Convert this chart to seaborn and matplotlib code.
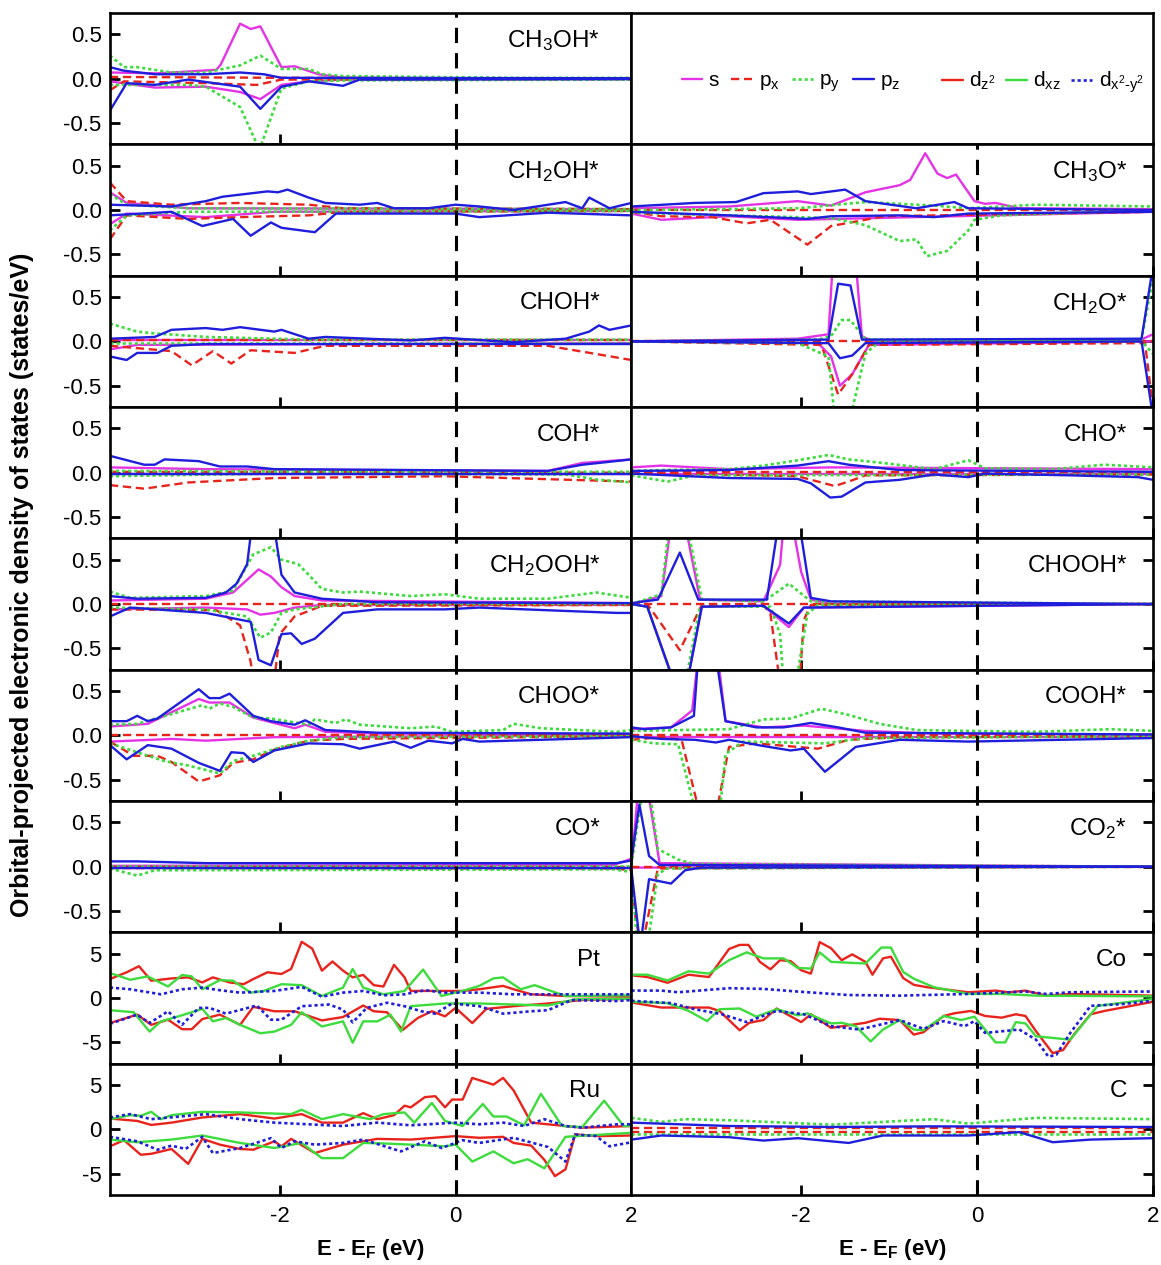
import numpy as np
import pandas as pd
import seaborn as sns
import matplotlib.pyplot as plt
from matplotlib.lines import Line2D

# ---------------- data (energy in eV, DOS in states/eV) ----------------
# each curve: (energies, dos); "UP" = spin up (positive), "DN" = spin down (negative)

# CH3OH*
CH3OH_S_UP = ([-3.93, -3.4, -2.72, -2.67, -2.45, -2.33, -2.22, -1.98, -1.83, -1.56, -1.28, 2.0],
              [0.07, 0.06, 0.10, 0.16, 0.62, 0.56, 0.59, 0.13, 0.14, 0.05, 0.01, 0.0])
CH3OH_S_DN = ([-3.93, -3.42, -2.84, -2.45, -2.22, -1.98, -1.67, -1.28, 2.0],
              [-0.03, -0.10, -0.09, -0.15, -0.23, -0.07, -0.03, -0.01, 0.0])
CH3OH_PX_UP = ([-3.93, -2.0, 2.0], [0.02, 0.01, 0.0])
CH3OH_PX_DN = ([-3.93, -3.77, -2.84, -2.26, -1.98, 2.0], [-0.13, -0.03, -0.05, -0.07, -0.01, -0.005])
CH3OH_PY_UP = ([-3.93, -3.77, -3.62, -3.23, -2.84, -2.45, -2.22, -1.98, -1.67, -1.52, -1.28, 0.66, 2.0],
               [0.26, 0.13, 0.13, 0.07, 0.07, 0.15, 0.26, 0.11, 0.11, 0.05, 0.03, 0.01, 0.01])
CH3OH_PY_DN = ([-3.93, -3.04, -2.84, -2.45, -2.23, -1.98, -1.67, -1.28, 2.0],
               [-0.07, -0.07, -0.09, -0.32, -0.80, -0.11, -0.03, -0.02, -0.01])
CH3OH_PZ_UP = ([-3.93, -3.77, -3.42, -2.84, -2.45, -2.18, -1.98, 2.0],
               [0.13, 0.09, 0.05, 0.05, 0.07, 0.05, 0.01, 0.005])
CH3OH_PZ_DN = ([-3.93, -3.74, -3.42, -3.04, -2.45, -2.22, -1.98, -1.67, -1.28, -1.09, 2.0],
               [-0.36, -0.05, -0.07, -0.01, -0.09, -0.34, -0.09, -0.03, -0.08, -0.01, -0.005])

# CH2OH*
CH2OH_S_UP = ([-3.93, -3.74, -3.04, 2.0], [0.20, 0.08, 0.02, 0.01])
CH2OH_S_DN = ([-3.93, -3.74, -2.84, -2.06, 2.0], [-0.16, -0.04, -0.08, -0.02, -0.01])
CH2OH_PX_UP = ([-3.93, -3.74, -3.23, -2.45, -1.67, -1.28, 2.0], [0.31, 0.10, 0.06, 0.08, 0.06, 0.02, 0.01])
CH2OH_PX_DN = ([-3.93, -3.74, -3.04, -2.45, -1.67, -1.28, 2.0], [-0.33, -0.06, -0.10, -0.08, -0.06, -0.02, -0.01])
CH2OH_PY_UP = ([-3.93, -3.74, -3.04, 2.0], [0.18, 0.06, 0.02, 0.01])
CH2OH_PY_DN = ([-3.93, -3.74, -3.04, 2.0], [-0.23, -0.06, -0.02, -0.01])
CH2OH_PZ_UP = ([-3.93, -3.23, -2.84, -2.65, -2.14, -2.02, -1.91, -1.67, -1.48, -1.09, -0.89, -0.70, -0.31,
                0.0, 0.27, 0.66, 1.25, 1.44, 1.52, 1.75, 2.0],
               [0.06, 0.04, 0.10, 0.15, 0.21, 0.20, 0.23, 0.14, 0.08, 0.06, 0.08, 0.02, 0.02,
                0.06, 0.04, 0.0, 0.09, 0.02, 0.14, 0.02, 0.08])
CH2OH_PZ_DN = ([-3.93, -3.23, -2.88, -2.53, -2.33, -2.10, -1.98, -1.60, -1.36, 0.0, 0.27, 1.05, 2.0],
               [-0.06, -0.02, -0.18, -0.10, -0.29, -0.14, -0.20, -0.25, -0.04, -0.04, -0.08, -0.03, -0.06])

# CHOH*
CHOH_S_UP = ([-3.93, 2.0], [0.02, 0.02])
CHOH_S_DN = ([-3.93, -3.62, 2.0], [-0.09, -0.04, -0.02])
CHOH_PX_UP = ([-3.93, 2.0], [0.01, 0.01])
CHOH_PX_DN = ([-3.93, -3.23, -3.00, -2.76, -2.55, -2.33, -1.83, -1.48, 1.05, 2.0],
              [-0.05, -0.11, -0.27, -0.11, -0.25, -0.10, -0.13, -0.05, -0.05, -0.21])
CHOH_PY_UP = ([-3.93, -3.62, -3.42, -2.84, -1.67, 2.0], [0.20, 0.11, 0.09, 0.05, 0.02, 0.02])
CHOH_PY_DN = ([-3.93, 2.0], [-0.02, -0.02])
CHOH_PZ_UP = ([-3.93, -3.42, -3.23, -2.84, -2.65, -2.45, -2.06, -1.98, -1.67, -1.48, -0.51, -0.12,
               0.66, 1.25, 1.52, 1.63, 1.75, 2.0],
              [0.03, 0.05, 0.13, 0.15, 0.13, 0.16, 0.11, 0.13, 0.03, 0.05, 0.01, 0.04,
               -0.01, 0.03, 0.11, 0.18, 0.13, 0.18])
CHOH_PZ_DN = ([-3.93, -3.74, -3.62, -3.39, -3.23, -2.84, 2.0], [-0.17, -0.21, -0.13, -0.13, -0.05, -0.03, -0.03])

# COH*
COH_S_UP = ([-3.93, -2.84, 1.05, 1.44, 2.0], [0.06, 0.04, 0.02, 0.11, 0.15])
COH_S_DN = ([-3.93, 2.0], [-0.01, -0.01])
COH_PX_UP = ([-3.93, 2.0], [0.01, 0.0])
COH_PX_DN = ([-3.93, -3.54, -3.04, -2.06, -0.12, 2.0], [-0.14, -0.18, -0.11, -0.06, -0.04, -0.10])
COH_PY_UP = ([-3.93, 2.0], [0.02, 0.01])
COH_PY_DN = ([-3.93, -2.06, 1.25, 1.63, 2.0], [-0.04, -0.01, -0.02, -0.08, -0.11])
COH_PZ_UP = ([-3.93, -3.54, -3.42, -3.31, -2.92, -2.68, -2.37, -2.06, 1.05, 1.44, 1.63, 2.0],
             [0.19, 0.09, 0.09, 0.15, 0.13, 0.07, 0.07, 0.04, 0.02, 0.09, 0.11, 0.15])
COH_PZ_DN = ([-3.93, 2.0], [-0.02, -0.02])

# CH2OOH*
CH2OOH_S_UP = ([-3.93, -2.84, -2.53, -2.24, -2.10, -1.98, -1.83, -1.52, 2.0],
               [0.04, 0.06, 0.13, 0.39, 0.31, 0.19, 0.09, 0.04, 0.01])
CH2OOH_S_DN = ([-3.93, -2.84, -2.37, -2.22, -2.06, -1.83, -1.52, 2.0],
               [-0.06, -0.04, -0.06, -0.12, -0.10, -0.04, -0.01, -0.01])
CH2OOH_PX_UP = ([-3.93, 2.0], [0.0, 0.0])
CH2OOH_PX_DN = ([-3.93, -2.72, -2.45, -2.33, -2.30, -2.06, -2.00, -1.83, -1.52, 2.0],
                [-0.06, -0.07, -0.24, -0.65, -0.85, -0.85, -0.34, -0.14, -0.02, -0.01])
CH2OOH_PY_UP = ([-3.93, -3.70, -2.84, -2.53, -2.30, -2.10, -1.98, -1.79, -1.67, -1.52, -1.28, -1.09,
                 -0.51, -0.12, 0.27, 1.05, 1.60, 2.0],
                [0.14, 0.07, 0.09, 0.15, 0.56, 0.64, 0.50, 0.45, 0.33, 0.17, 0.13, 0.14,
                 0.09, 0.11, 0.06, 0.06, 0.13, 0.07])
CH2OOH_PY_DN = ([-3.93, -2.84, -2.37, -2.22, -2.10, -1.98, -1.83, -1.28, 2.0],
                [-0.04, -0.06, -0.14, -0.38, -0.32, -0.10, -0.06, 0.0, 0.0])
CH2OOH_PZ_UP = ([-3.93, -3.62, -2.84, -2.61, -2.49, -2.37, -2.32, -2.06, -1.98, -1.83, -1.52, -0.89, 2.0],
                [0.09, 0.06, 0.07, 0.13, 0.23, 0.45, 0.85, 0.85, 0.33, 0.13, 0.06, 0.02, 0.01])
CH2OOH_PZ_DN = ([-3.93, -3.70, -2.84, -2.33, -2.24, -2.10, -1.98, -1.87, -1.75, -1.60, -1.28, -0.89,
                 -0.12, 0.27, 1.83, 2.0],
                [-0.14, -0.04, -0.10, -0.20, -0.63, -0.69, -0.34, -0.33, -0.45, -0.39, -0.10, -0.06,
                 -0.06, -0.04, -0.10, -0.10])

# CHOO*
CHOO_S_UP = ([-3.93, -3.50, -2.92, -2.80, -2.57, -2.30, -1.83, -1.71, -1.48, -0.89, 2.0],
             [0.10, 0.13, 0.41, 0.37, 0.37, 0.20, 0.08, 0.12, 0.04, 0.02, 0.01])
CHOO_S_DN = ([-3.93, -3.23, -2.84, -2.06, 2.0], [-0.07, -0.04, -0.06, -0.02, 0.0])
CHOO_PX_UP = ([-3.93, 2.0], [0.0, 0.0])
CHOO_PX_DN = ([-3.93, -3.66, -3.39, -3.23, -2.92, -2.68, -2.53, -2.30, -2.06, -1.67, -1.28, 2.0],
              [-0.07, -0.23, -0.23, -0.30, -0.52, -0.45, -0.31, -0.27, -0.16, -0.06, -0.04, -0.01])
CHOO_PY_UP = ([-3.93, -3.62, -3.23, -2.88, -2.80, -2.68, -2.53, -2.30, -2.10, -1.67, -1.60, -1.36,
               -1.25, -1.09, -0.51, -0.23, -0.04, 0.54, 0.66, 0.97, 1.83, 2.0],
              [0.12, 0.13, 0.24, 0.34, 0.30, 0.36, 0.32, 0.20, 0.19, 0.12, 0.18, 0.14,
               0.18, 0.12, 0.08, 0.10, 0.04, 0.06, 0.13, 0.08, 0.04, 0.06])
CHOO_PY_DN = ([-3.93, -3.31, -3.04, -2.68, -2.53, -2.30, -1.98, -1.67, -1.28, 2.0],
              [-0.09, -0.29, -0.34, -0.43, -0.29, -0.23, -0.13, -0.06, -0.02, -0.01])
CHOO_PZ_UP = ([-3.93, -3.74, -3.62, -3.50, -3.39, -2.92, -2.80, -2.68, -2.57, -2.30, -2.10, -1.83,
               -1.71, -1.48, -0.89, 2.0],
              [0.16, 0.16, 0.22, 0.16, 0.19, 0.52, 0.42, 0.42, 0.47, 0.22, 0.16, 0.12,
               0.17, 0.06, 0.03, 0.02])
CHOO_PZ_DN = ([-3.93, -3.74, -3.50, -3.23, -2.92, -2.68, -2.55, -2.41, -2.30, -2.06, -1.67, -1.28,
               -1.09, -0.70, -0.51, -0.31, -0.04, 0.08, 0.27, 2.0],
              [-0.11, -0.27, -0.11, -0.15, -0.31, -0.40, -0.19, -0.20, -0.30, -0.17, -0.09, -0.10,
               -0.15, -0.07, -0.14, -0.06, -0.09, -0.04, -0.07, -0.02])

# CO*
CO_S_UP = ([-3.93, 1.8, 2.0], [0.01, 0.02, 0.09])
CO_S_DN = ([-3.93, 2.0], [-0.01, -0.01])
CO_PX_UP = ([-3.93, 2.0], [0.0, 0.0])
CO_PX_DN = ([-3.93, 1.8, 2.0], [-0.015, -0.02, -0.04])
CO_PY_UP = ([-3.93, 2.0], [0.01, 0.01])
CO_PY_DN = ([-3.93, -3.62, -3.42, 1.8, 2.0], [-0.02, -0.10, -0.04, -0.03, -0.06])
CO_PZ_UP = ([-3.93, -3.62, -2.84, 1.83, 2.0], [0.06, 0.06, 0.04, 0.04, 0.07])
CO_PZ_DN = ([-3.93, 2.0], [-0.01, -0.01])

# CH3O*
CH3O_S_UP = ([-3.93, -2.82, -2.04, -1.66, -1.27, -0.88, -0.76, -0.59, -0.45, -0.34, -0.24, -0.03,
              0.09, 0.21, 0.48, 2.0],
             [0.02, 0.04, 0.10, 0.05, 0.20, 0.28, 0.34, 0.64, 0.41, 0.36, 0.40, 0.10,
              0.07, 0.08, 0.02, 0.01])
CH3O_S_DN = ([-3.93, -3.59, -2.82, -2.04, 2.0], [-0.04, -0.11, -0.07, -0.11, -0.02])
CH3O_PX_UP = ([-3.93, 2.0], [0.0, 0.0])
CH3O_PX_DN = ([-3.93, -3.59, -3.01, -2.62, -2.35, -1.93, -1.66, -1.27, -1.07, 2.0],
              [-0.02, -0.07, -0.08, -0.15, -0.11, -0.39, -0.18, -0.11, -0.07, -0.02])
CH3O_PY_UP = ([-3.93, -2.04, -1.27, -0.49, -0.10, 0.67, 2.0], [0.0, 0.02, 0.09, 0.05, 0.02, 0.06, 0.04])
CH3O_PY_DN = ([-3.93, -2.82, -1.66, -1.27, -0.88, -0.69, -0.57, -0.34, -0.10, -0.03, 0.28, 2.0],
              [-0.03, -0.06, -0.09, -0.17, -0.35, -0.33, -0.52, -0.46, -0.23, -0.11, -0.06, 0.0])
CH3O_PZ_UP = ([-3.93, -3.21, -2.74, -2.43, -2.04, -1.89, -1.50, -1.27, -0.69, -0.26, -0.10, 2.0],
              [0.04, 0.08, 0.09, 0.19, 0.21, 0.18, 0.23, 0.10, 0.02, 0.09, 0.02, 0.0])
CH3O_PZ_DN = ([-3.93, -2.82, -1.93, -1.66, -0.88, -0.49, -0.10, 2.0],
              [-0.02, -0.06, -0.10, -0.07, -0.06, -0.08, -0.04, -0.02])

# CH2O*
CH2O_S_UP = ([-3.93, -2.04, -1.69, -1.64, -1.38, -1.31, -1.19, 1.83, 1.91, 2.0],
             [0.0, 0.03, 0.08, 0.9, 0.9, 0.06, 0.0, 0.0, 0.04, 0.08])
CH2O_S_DN = ([-3.93, -1.81, -1.66, -1.56, -1.42, -1.23, 2.0], [0.0, -0.02, -0.17, -0.50, -0.37, -0.04, 0.0])
CH2O_PX_UP = ([-3.93, 2.0], [0.0, 0.0])
CH2O_PX_DN = ([-3.93, -1.77, -1.58, -1.42, -1.23, 1.91, 2.0], [0.0, -0.04, -0.60, -0.37, -0.04, -0.02, -0.76])
CH2O_PY_UP = ([-3.93, -1.81, -1.66, -1.54, -1.44, -1.27, 1.87, 2.0], [0.0, 0.02, 0.06, 0.24, 0.24, 0.02, 0.02, 0.72])
CH2O_PY_DN = ([-3.93, -2.04, -1.69, -1.62, -1.44, -1.27, -1.11, 1.87, 2.0],
              [0.0, -0.02, -0.17, -0.85, -0.85, -0.14, 0.0, 0.0, -0.14])
CH2O_PZ_UP = ([-3.93, -1.69, -1.58, -1.44, -1.31, 1.87, 2.0], [0.0, 0.02, 0.65, 0.63, 0.02, 0.03, 0.85])
CH2O_PZ_DN = ([-3.93, -1.69, -1.56, -1.42, -1.27, 1.87, 2.0], [0.0, -0.02, -0.19, -0.16, -0.02, 0.0, -0.85])

# CHO*
CHO_S_UP = ([-3.93, -3.59, -2.82, -1.66, 2.0], [0.06, 0.08, 0.04, 0.06, 0.04])
CHO_S_DN = ([-3.93, 2.0], [-0.02, -0.02])
CHO_PX_UP = ([-3.93, 2.0], [0.01, 0.01])
CHO_PX_DN = ([-3.93, -2.04, -1.81, -1.62, -1.46, -1.27, 2.0], [0.0, -0.04, -0.10, -0.15, -0.10, -0.03, -0.02])
CHO_PY_UP = ([-3.93, -3.59, -2.82, -2.43, -2.04, -1.69, -1.46, -1.07, -0.49, -0.10, 0.09, 0.86, 1.45, 2.0],
             [0.02, 0.03, 0.04, 0.08, 0.14, 0.20, 0.15, 0.11, 0.04, 0.14, 0.05, 0.04, 0.09, 0.06])
CHO_PY_DN = ([-3.93, -3.52, -3.21, 2.0], [-0.03, -0.10, -0.03, -0.02])
CHO_PZ_UP = ([-3.93, -2.82, -2.04, -1.69, -1.46, -0.88, 2.0], [0.02, 0.03, 0.08, 0.13, 0.09, 0.03, 0.01])
CHO_PZ_DN = ([-3.93, -2.82, -2.04, -1.89, -1.67, -1.54, -1.27, -0.88, -0.49, -0.10, 0.09, 1.06, 1.83, 2.0],
             [-0.01, -0.06, -0.07, -0.12, -0.28, -0.27, -0.11, -0.08, -0.02, -0.05, -0.01, -0.03, -0.05, -0.08])

# CHOOH*
CHOOH_S_UP = ([-3.93, -3.59, -3.48, -3.32, -3.15, -2.43, -2.24, -2.20, -2.10, -2.00, -1.89, -1.66, 2.0],
              [0.0, 0.09, 0.9, 0.9, 0.05, 0.03, 0.44, 0.9, 0.9, 0.36, 0.05, 0.0, 0.0])
CHOOH_S_DN = ([-3.93, -3.75, -3.44, -3.30, -3.13, -2.43, -2.14, -1.97, 2.0],
              [0.0, -0.03, -0.9, -0.9, -0.03, -0.02, -0.26, -0.04, 0.0])
CHOOH_PX_UP = ([-3.93, 2.0], [0.0, 0.0])
CHOOH_PX_DN = ([-3.93, -3.75, -3.38, -3.13, -2.43, -2.35, -2.24, -2.02, -1.97, -1.89, 2.0],
               [0.0, 0.0, -0.52, -0.01, -0.01, -0.11, -0.9, -0.9, -0.18, -0.01, 0.0])
CHOOH_PY_UP = ([-3.93, -3.59, -3.50, -3.30, -3.13, -2.43, -2.31, -2.14, -1.89, 2.0],
               [0.0, 0.11, 0.9, 0.9, 0.05, 0.03, 0.11, 0.23, 0.03, 0.0])
CHOOH_PY_DN = ([-3.93, -3.75, -3.44, -3.32, -3.15, -2.35, -2.24, -2.20, -2.06, -1.93, -1.81, 2.0],
               [0.0, -0.03, -0.9, -0.9, -0.03, -0.03, -0.34, -0.9, -0.9, -0.11, -0.01, 0.0])
CHOOH_PZ_UP = ([-3.93, -3.63, -3.38, -3.17, -2.39, -2.26, -2.02, -1.89, -1.66, 2.0],
               [0.01, 0.05, 0.58, 0.05, 0.05, 0.9, 0.9, 0.07, 0.03, 0.0])
CHOOH_PZ_DN = ([-3.93, -3.75, -3.44, -3.30, -3.13, -2.43, -2.14, -1.97, 2.0],
               [0.0, -0.03, -0.9, -0.9, -0.03, -0.02, -0.22, -0.04, 0.0])

# COOH*
COOH_S_UP = ([-3.93, -3.48, -3.24, -3.17, -2.95, -2.86, -2.43, -1.97, -1.27, -0.49, 2.0],
             [0.07, 0.09, 0.28, 0.9, 0.9, 0.16, 0.09, 0.11, 0.05, 0.02, 0.01])
COOH_S_DN = ([-3.93, 2.0], [-0.02, -0.02])
COOH_PX_UP = ([-3.93, 2.0], [0.0, 0.0])
COOH_PX_DN = ([-3.93, -3.59, -3.36, -3.15, -2.97, -2.82, -2.51, -1.81, -1.46, -0.88, 2.0],
              [-0.05, -0.02, -0.05, -0.9, -0.9, -0.13, -0.09, -0.15, -0.05, -0.02, -0.01])
COOH_PY_UP = ([-3.93, -2.82, -2.43, -2.12, -1.77, -1.46, -1.11, -0.69, -0.10, 0.67, 1.52, 2.0],
              [0.05, 0.07, 0.18, 0.19, 0.30, 0.23, 0.13, 0.06, 0.05, 0.04, 0.07, 0.05])
COOH_PY_DN = ([-3.93, -3.67, -3.40, -3.19, -2.93, -2.86, -2.66, -1.73, -1.27, 2.0],
              [-0.05, -0.09, -0.10, -0.9, -0.9, -0.21, -0.07, -0.09, -0.03, -0.01])
COOH_PZ_UP = ([-3.93, -3.79, -3.48, -3.22, -3.17, -2.97, -2.86, -2.51, -2.20, -1.89, -1.58, -1.27, 2.0],
              [0.09, 0.07, 0.09, 0.22, 0.9, 0.9, 0.16, 0.09, 0.09, 0.14, 0.09, 0.03, 0.01])
COOH_PZ_DN = ([-3.93, -3.59, -3.21, -2.97, -2.82, -2.43, -2.12, -1.97, -1.73, -1.38, -0.88, -0.10, 2.0],
              [-0.01, -0.04, -0.05, -0.08, -0.05, -0.12, -0.17, -0.15, -0.41, -0.13, -0.05, -0.07, -0.03])

# CO2*
CO2_S_UP = ([-3.93, -3.85, -3.75, -3.61, 2.0], [0.02, 0.9, 0.9, 0.04, 0.0])
CO2_S_DN = ([-3.93, 2.0], [-0.01, 0.0])
CO2_PX_UP = ([-3.93, 2.0], [0.0, 0.0])
CO2_PX_DN = ([-3.93, -3.88, -3.81, -3.63, 2.0], [-0.08, -0.62, -0.9, -0.02, 0.0])
CO2_PY_UP = ([-3.93, -3.80, -3.73, -3.63, -3.40, -3.21, 2.0], [0.02, 0.9, 0.9, 0.20, 0.08, 0.03, 0.0])
CO2_PY_DN = ([-3.93, -3.86, -3.75, -3.63, -3.52, 2.0], [-0.1, -0.9, -0.9, -0.08, -0.02, 0.0])
CO2_PZ_UP = ([-3.93, -3.84, -3.73, -3.61, 2.0], [0.08, 0.70, 0.12, 0.02, 0.0])
CO2_PZ_DN = ([-3.93, -3.83, -3.73, -3.48, -3.32, -3.13, 2.0], [-0.04, -0.9, -0.14, -0.19, -0.04, -0.01, 0.0])

# Pt (d orbitals)
PT_DZ2_UP = ([-3.93, -3.74, -3.60, -3.46, -3.23, -3.04, -2.88, -2.76, -2.57, -2.41, -2.30, -2.14, -1.98,
              -1.87, -1.75, -1.63, -1.52, -1.40, -1.28, -1.17, -1.05, -0.93, -0.82, -0.70, -0.58, -0.51,
              -0.35, -0.12, 0.08, 0.27, 0.54, 0.66, 0.86, 1.25, 2.0],
             [2.14, 2.90, 3.59, 1.95, 2.21, 2.33, 1.76, 2.33, 1.76, 1.56, 2.14, 2.90, 2.71,
              3.28, 6.34, 5.57, 3.09, 4.12, 3.09, 2.33, 2.60, 1.45, 1.30, 3.74, 2.33, 0.80,
              0.80, 0.80, 0.80, 0.99, 1.37, 0.99, 0.42, 0.23, 0.15])
PT_DXZ_UP = ([-3.93, -3.70, -3.50, -3.27, -3.11, -3.00, -2.88, -2.68, -2.53, -2.33, -2.18, -1.98, -1.75,
              -1.52, -1.28, -1.17, -1.05, -0.82, -0.58, -0.37, -0.16, 0.08, 0.27, 0.43, 0.54, 0.74,
              0.90, 1.05, 1.25, 2.0],
             [2.82, 2.06, 2.44, 1.30, 2.60, 2.44, 0.99, 2.02, 1.95, 0.61, 0.80, 1.56, 1.45,
              0.23, 1.18, 3.28, 1.18, 0.42, 0.80, 3.21, 0.23, 0.80, 1.37, 2.21, 2.33, 0.99,
              1.45, 0.92, 0.23, 0.31])
PT_DX2_UP = ([-3.93, -3.70, -3.35, -3.11, -2.88, -2.68, -2.45, -2.06, -1.75, -1.52, -1.28, -1.05, -0.82,
              -0.58, -0.35, -0.12, 0.27, 0.66, 1.05, 2.0],
             [1.18, 0.99, 0.42, 0.99, 1.18, 0.88, 0.61, 0.80, 1.26, 0.15, 0.61, 0.80, 0.31,
              0.42, 0.88, 0.61, 0.61, 0.42, 0.42, 0.42])
PT_DZ2_DN = ([-3.93, -3.62, -3.46, -3.27, -3.11, -3.00, -2.88, -2.68, -2.45, -2.30, -2.06, -1.83, -1.52,
              -1.28, -1.05, -0.93, -0.78, -0.60, -0.43, -0.27, -0.12, 0.0, 0.19, 0.35, 0.66, 1.05,
              1.44, 2.0],
             [-2.82, -1.87, -3.02, -2.44, -3.51, -3.51, -2.37, -1.87, -3.02, -0.99, -1.49, -1.49, -2.52,
              -2.14, -0.84, -1.49, -1.60, -3.59, -2.25, -1.49, -2.06, -1.11, -2.82, -1.22, -0.92, -0.61,
              -0.23, -0.08])
PT_DXZ_DN = ([-3.93, -3.66, -3.48, -3.35, -3.15, -3.00, -2.88, -2.76, -2.61, -2.45, -2.22, -2.06, -1.87,
              -1.75, -1.52, -1.28, -1.17, -1.05, -0.89, -0.74, -0.62, -0.51, -0.12, 0.27, 0.66, 1.05,
              1.36, 2.0],
             [-1.37, -1.60, -3.78, -2.63, -2.06, -1.60, -1.22, -2.63, -2.25, -3.02, -3.97, -3.78, -3.02,
              -1.60, -3.21, -2.63, -5.04, -2.63, -2.63, -1.87, -3.78, -0.92, -0.61, -0.61, -0.73, -0.84,
              -0.15, -0.08])
PT_DX2_DN = ([-3.93, -3.62, -3.48, -3.27, -3.11, -2.92, -2.80, -2.61, -2.26, -2.10, -1.98, -1.75, -1.44,
              -1.28, -1.17, -1.01, -0.78, -0.58, -0.39, -0.23, -0.04, 0.27, 0.54, 0.86, 1.05, 1.32,
              1.83, 2.0],
             [-2.90, -1.87, -2.82, -1.49, -3.02, -1.11, -1.11, -1.76, -0.84, -2.44, -2.44, -0.92, -0.73,
              -1.30, -2.75, -1.11, -0.53, -0.92, -1.49, -1.76, -0.61, -0.92, -1.76, -1.49, -1.37, -0.23,
              -0.34, -0.23])

# Ru
RU_DZ2_UP = ([-3.93, -3.62, -3.46, -3.23, -2.88, -2.45, -2.06, -1.75, -1.52, -1.28, -1.05, -0.89, -0.70,
              -0.58, -0.51, -0.35, -0.23, -0.12, -0.04, 0.08, 0.19, 0.43, 0.54, 0.66, 0.86, 1.05,
              1.44, 2.0],
             [1.22, 0.95, 0.50, 0.76, 1.34, 1.72, 1.22, 1.72, 0.76, 0.76, 1.83, 1.15, 1.60,
              2.67, 2.48, 3.63, 3.74, 2.48, 3.36, 3.36, 5.80, 5.04, 5.80, 4.39, 0.76, 0.57,
              0.19, 0.38])
RU_DXZ_UP = ([-3.93, -3.70, -3.58, -3.46, -3.35, -3.23, -2.88, -2.45, -1.87, -1.75, -1.52, -1.28, -0.97,
              -0.82, -0.58, -0.47, -0.27, -0.12, 0.08, 0.31, 0.43, 0.58, 0.78, 0.97, 1.21, 1.44,
              1.69, 1.91, 2.0],
             [1.15, 1.60, 1.53, 1.98, 1.15, 1.60, 1.98, 1.91, 1.72, 2.21, 1.15, 1.72, 1.15,
              1.72, 1.91, 0.76, 2.98, 0.95, 0.38, 2.86, 1.45, 1.45, 0.46, 4.01, 0.38, 0.27,
              3.24, 0.38, 0.38])
RU_DX2_UP = ([-3.93, -3.70, -3.46, -2.84, -2.45, -2.06, -1.67, -1.28, -0.89, -0.51, 0.0, 0.27, 0.54,
              0.78, 1.01, 1.25, 1.44, 1.83, 2.0],
             [1.34, 1.72, 1.15, 1.72, 1.15, 0.76, 0.57, 0.38, 0.76, 0.46, 0.76, 0.57, 0.76,
              0.38, 1.15, 0.38, 0.19, 0.57, 0.57])
RU_DZ2_DN = ([-3.93, -3.77, -3.58, -3.46, -3.23, -3.04, -2.88, -2.68, -2.45, -2.30, -2.06, -1.98, -1.87,
              -1.60, -1.28, -0.89, -0.51, 0.0, 0.27, 0.54, 0.66, 0.86, 1.01, 1.13, 1.25, 1.36,
              1.63, 2.0],
             [-1.91, -1.22, -2.86, -2.75, -2.21, -3.89, -1.07, -1.72, -2.21, -2.29, -1.34, -1.91, -1.07,
              -2.67, -1.72, -1.07, -1.15, -0.76, -0.95, -0.84, -1.53, -1.83, -3.44, -5.27, -4.50, -0.57,
              -0.76, -0.69])
RU_DXZ_DN = ([-3.93, -3.62, -3.23, -2.88, -2.45, -2.06, -1.75, -1.52, -1.28, -1.05, -0.78, -0.51, -0.12,
              0.0, 0.19, 0.43, 0.66, 0.82, 1.01, 1.25, 2.0],
             [-1.15, -1.45, -1.15, -0.69, -1.53, -2.10, -1.53, -3.24, -3.24, -1.53, -1.60, -1.72, -1.91,
              -1.72, -3.63, -2.48, -3.82, -3.36, -4.39, -0.84, -0.38])
RU_DX2_DN = ([-3.93, -3.62, -3.39, -3.23, -3.07, -2.88, -2.76, -2.45, -2.10, -1.98, -1.83, -1.60, -1.28,
              -1.05, -0.62, -0.35, -0.16, 0.08, 0.27, 0.66, 1.05, 1.25, 1.36, 1.60, 1.75, 2.0],
             [-0.84, -1.34, -2.29, -1.83, -2.21, -0.84, -2.67, -2.10, -0.99, -2.10, -1.34, -1.72, -1.53,
              -1.15, -2.48, -1.34, -2.10, -1.22, -1.53, -0.95, -1.98, -3.63, -0.57, -0.76, -1.91, -1.45])

# Co
COBALT_DZ2_UP = ([-3.93, -3.75, -3.52, -3.28, -3.05, -2.82, -2.70, -2.60, -2.47, -2.35, -2.24, -2.12,
                  -2.00, -1.89, -1.79, -1.66, -1.54, -1.42, -1.27, -1.19, -1.07, -0.98, -0.84, -0.72,
                  -0.57, -0.41, -0.10, 0.21, 0.36, 0.55, 0.79, 1.06, 2.0],
                 [2.56, 2.37, 1.72, 2.63, 2.37, 5.53, 5.99, 5.99, 4.08, 3.24, 4.27, 4.16,
                  3.13, 2.75, 6.30, 5.61, 4.27, 4.92, 4.08, 2.63, 4.47, 4.66, 2.25, 1.49,
                  1.22, 1.03, 0.65, 0.84, 0.65, 0.84, 0.27, 0.46, 0.27])
COBALT_DXZ_UP = ([-3.93, -3.75, -3.52, -3.28, -3.05, -2.82, -2.62, -2.43, -2.20, -2.04, -1.89, -1.79,
                  -1.66, -1.27, -1.09, -0.98, -0.84, -0.72, -0.49, -0.10, 0.28, 0.67, 2.0],
                 [2.63, 2.63, 1.98, 3.02, 2.75, 4.27, 5.15, 4.47, 4.47, 3.40, 3.32, 5.15,
                  4.08, 3.89, 5.69, 5.69, 2.94, 2.18, 1.22, 0.46, 0.46, 0.27, 0.19])
COBALT_DX2_UP = ([-3.93, -3.59, -3.40, -2.82, -2.43, -2.04, -1.46, -0.88, -0.10, 0.55, 0.79, 1.06, 1.83, 2.0],
                 [0.84, 0.84, 0.65, 1.11, 1.03, 0.73, 0.34, 0.27, 0.46, 0.73, 0.46, 0.65, 0.73, 0.73])
COBALT_DZ2_DN = ([-3.93, -3.59, -3.05, -2.93, -2.70, -2.59, -2.43, -2.28, -2.00, -1.89, -1.66, -1.27,
                  -1.11, -0.88, -0.72, -0.61, -0.38, -0.26, -0.07, 0.09, 0.28, 0.44, 0.55, 0.67,
                  0.86, 0.98, 1.10, 1.29, 1.45, 2.0],
                 [-0.50, -1.07, -1.07, -1.45, -3.63, -2.79, -2.48, -1.18, -2.71, -1.83, -3.36, -2.79,
                  -2.33, -2.48, -4.12, -3.85, -2.02, -1.72, -1.45, -2.02, -2.21, -1.83, -2.02, -3.74,
                  -6.22, -5.84, -4.12, -1.83, -1.45, -0.42])
COBALT_DXZ_DN = ([-3.93, -3.52, -3.28, -3.07, -2.93, -2.70, -2.51, -2.28, -2.04, -1.93, -1.66, -1.54,
                  -1.38, -1.21, -1.07, -0.88, -0.72, -0.61, -0.38, -0.18, -0.03, 0.21, 0.32, 0.44,
                  0.55, 0.67, 1.06, 1.37, 2.0],
                 [-0.42, -0.57, -1.45, -2.60, -1.26, -1.18, -2.10, -1.26, -1.95, -1.72, -2.86, -2.79,
                  -3.17, -4.89, -3.55, -2.48, -3.55, -3.63, -2.02, -2.48, -2.10, -5.00, -5.00, -2.71,
                  -2.86, -4.31, -4.69, -0.88, -0.10])
COBALT_DX2_DN = ([-3.93, -3.48, -3.21, -2.90, -2.62, -2.28, -1.97, -1.66, -1.34, -0.88, -0.61, -0.38,
                  -0.14, -0.03, 0.09, 0.48, 0.67, 0.81, 0.90, 1.06, 1.29, 1.64, 2.0],
                 [-0.31, -0.57, -1.26, -1.83, -2.71, -1.45, -1.83, -3.17, -3.55, -2.48, -3.47, -2.60,
                  -3.17, -2.60, -3.93, -3.55, -4.69, -6.60, -6.41, -3.93, -0.88, -0.69, -0.31])

# C (p orbitals)
CARBON_PX_UP = ([-3.93, 2.0], [0.2, 0.2])
CARBON_PX_DN = ([-3.93, 2.0], [-0.3, -0.3])
CARBON_PY_UP = ([-3.93, -3.59, -3.32, -2.82, -1.66, -0.49, -0.10, 0.67, 2.0],
                [1.30, 0.84, 1.15, 1.03, 0.53, 1.15, 0.65, 1.30, 1.15])
CARBON_PY_DN = ([-3.93, 2.0], [-0.5, -0.5])
CARBON_PZ_UP = ([-3.93, -2.82, -1.66, -0.49, 2.0], [0.76, 0.38, 0.27, 0.34, 0.27])
CARBON_PZ_DN = ([-3.93, -3.59, -2.82, -2.43, -2.04, -1.46, -1.07, -0.10, 0.48, 0.86, 1.29, 2.0],
                [-1.15, -0.69, -0.88, -1.26, -0.99, -1.53, -0.69, -0.69, -0.31, -1.45, -1.15, -0.99])

# ---------------- styling ----------------
sns.set_style('white')
plt.rcParams['font.family'] = ['Liberation Sans', 'DejaVu Sans']
plt.rcParams['mathtext.fontset'] = 'custom'
plt.rcParams['mathtext.rm'] = 'Liberation Sans'
plt.rcParams['mathtext.it'] = 'Liberation Sans:italic'
plt.rcParams['mathtext.bf'] = 'Liberation Sans:bold'
for key in ['text.color', 'axes.labelcolor', 'xtick.color', 'ytick.color']:
    plt.rcParams[key] = 'black'

STYLE = {
    's':   dict(color='#E632E6', ls='-', lw=1.7),
    'px':  dict(color='#E8231C', ls=(0, (3.5, 2.0)), lw=1.7),
    'py':  dict(color='#3CDC3C', ls=(0, (1.2, 1.1)), lw=1.9),
    'pz':  dict(color='#1E1EDC', ls='-', lw=1.7),
    'dz2': dict(color='#E8231C', ls='-', lw=1.7),
    'dxz': dict(color='#3CDC3C', ls='-', lw=1.7),
    'dx2': dict(color='#1E1EDC', ls=(0, (1.2, 1.1)), lw=1.9),
}

def mol(s_up, s_dn, px_up, px_dn, py_up, py_dn, pz_up, pz_dn):
    return [(s_up, 's'), (s_dn, 's'), (px_up, 'px'), (px_dn, 'px'),
            (py_up, 'py'), (py_dn, 'py'), (pz_up, 'pz'), (pz_dn, 'pz')]

def metal(dz2_up, dz2_dn, dxz_up, dxz_dn, dx2_up, dx2_dn):
    return [(dz2_up, 'dz2'), (dz2_dn, 'dz2'), (dxz_up, 'dxz'), (dxz_dn, 'dxz'),
            (dx2_up, 'dx2'), (dx2_dn, 'dx2')]

# (row, col, label, kind, curves)
panels = [
    (0, 0, 'CH$_\\mathregular{3}$OH*', 'mol', mol(CH3OH_S_UP, CH3OH_S_DN, CH3OH_PX_UP, CH3OH_PX_DN,
                                                   CH3OH_PY_UP, CH3OH_PY_DN, CH3OH_PZ_UP, CH3OH_PZ_DN)),
    (1, 0, 'CH$_\\mathregular{2}$OH*', 'mol', mol(CH2OH_S_UP, CH2OH_S_DN, CH2OH_PX_UP, CH2OH_PX_DN,
                                                   CH2OH_PY_UP, CH2OH_PY_DN, CH2OH_PZ_UP, CH2OH_PZ_DN)),
    (2, 0, 'CHOH*', 'mol', mol(CHOH_S_UP, CHOH_S_DN, CHOH_PX_UP, CHOH_PX_DN,
                               CHOH_PY_UP, CHOH_PY_DN, CHOH_PZ_UP, CHOH_PZ_DN)),
    (3, 0, 'COH*', 'mol', mol(COH_S_UP, COH_S_DN, COH_PX_UP, COH_PX_DN,
                              COH_PY_UP, COH_PY_DN, COH_PZ_UP, COH_PZ_DN)),
    (4, 0, 'CH$_\\mathregular{2}$OOH*', 'mol', mol(CH2OOH_S_UP, CH2OOH_S_DN, CH2OOH_PX_UP, CH2OOH_PX_DN,
                                                    CH2OOH_PY_UP, CH2OOH_PY_DN, CH2OOH_PZ_UP, CH2OOH_PZ_DN)),
    (5, 0, 'CHOO*', 'mol', mol(CHOO_S_UP, CHOO_S_DN, CHOO_PX_UP, CHOO_PX_DN,
                               CHOO_PY_UP, CHOO_PY_DN, CHOO_PZ_UP, CHOO_PZ_DN)),
    (6, 0, 'CO*', 'mol', mol(CO_S_UP, CO_S_DN, CO_PX_UP, CO_PX_DN,
                             CO_PY_UP, CO_PY_DN, CO_PZ_UP, CO_PZ_DN)),
    (7, 0, 'Pt', 'metal', metal(PT_DZ2_UP, PT_DZ2_DN, PT_DXZ_UP, PT_DXZ_DN, PT_DX2_UP, PT_DX2_DN)),
    (8, 0, 'Ru', 'metal', metal(RU_DZ2_UP, RU_DZ2_DN, RU_DXZ_UP, RU_DXZ_DN, RU_DX2_UP, RU_DX2_DN)),
    (1, 1, 'CH$_\\mathregular{3}$O*', 'mol', mol(CH3O_S_UP, CH3O_S_DN, CH3O_PX_UP, CH3O_PX_DN,
                                                  CH3O_PY_UP, CH3O_PY_DN, CH3O_PZ_UP, CH3O_PZ_DN)),
    (2, 1, 'CH$_\\mathregular{2}$O*', 'mol', mol(CH2O_S_UP, CH2O_S_DN, CH2O_PX_UP, CH2O_PX_DN,
                                                  CH2O_PY_UP, CH2O_PY_DN, CH2O_PZ_UP, CH2O_PZ_DN)),
    (3, 1, 'CHO*', 'mol', mol(CHO_S_UP, CHO_S_DN, CHO_PX_UP, CHO_PX_DN,
                              CHO_PY_UP, CHO_PY_DN, CHO_PZ_UP, CHO_PZ_DN)),
    (4, 1, 'CHOOH*', 'mol', mol(CHOOH_S_UP, CHOOH_S_DN, CHOOH_PX_UP, CHOOH_PX_DN,
                                CHOOH_PY_UP, CHOOH_PY_DN, CHOOH_PZ_UP, CHOOH_PZ_DN)),
    (5, 1, 'COOH*', 'mol', mol(COOH_S_UP, COOH_S_DN, COOH_PX_UP, COOH_PX_DN,
                               COOH_PY_UP, COOH_PY_DN, COOH_PZ_UP, COOH_PZ_DN)),
    (6, 1, 'CO$_\\mathregular{2}$*', 'mol', mol(CO2_S_UP, CO2_S_DN, CO2_PX_UP, CO2_PX_DN,
                                                 CO2_PY_UP, CO2_PY_DN, CO2_PZ_UP, CO2_PZ_DN)),
    (7, 1, 'Co', 'metal', metal(COBALT_DZ2_UP, COBALT_DZ2_DN, COBALT_DXZ_UP, COBALT_DXZ_DN,
                                COBALT_DX2_UP, COBALT_DX2_DN)),
    (8, 1, 'C', 'metal', [(CARBON_PX_UP, 'px'), (CARBON_PX_DN, 'px'), (CARBON_PY_UP, 'py'),
                          (CARBON_PY_DN, 'py'), (CARBON_PZ_UP, 'pz'), (CARBON_PZ_DN, 'pz')]),
]

fig, axes = plt.subplots(9, 2, figsize=(11.61, 12.65), dpi=100)
fig.subplots_adjust(left=0.0947, right=0.9931, top=0.9897, bottom=0.0553, hspace=0, wspace=0)

for ax in axes.flat:
    ax.set_xlim(-3.93, 2.0)
    for sp in ax.spines.values():
        sp.set_linewidth(1.9)
        sp.set_color('black')

for row, col, label, kind, curves in panels:
    ax = axes[row, col]
    for (e, d), orb in curves:
        n = min(len(e), len(d))
        st = STYLE[orb]
        sns.lineplot(x=e[:n], y=d[:n], ax=ax, color=st['color'], linestyle=st['ls'],
                     linewidth=st['lw'], estimator=None, sort=False, legend=False)
    ax.axvline(0, color='black', ls=(0, (5, 3.3)), lw=2.2, zorder=5)

    if kind == 'mol':
        ax.set_ylim(-0.74, 0.74)
        ax.set_yticks([-0.5, 0.0, 0.5])
        ax.set_yticklabels(['-0.5', '0.0', '0.5'])
    else:
        ax.set_ylim(-7.4, 7.4)
        ax.set_yticks([-5, 0, 5])
        ax.set_yticklabels(['-5', '0', '5'])
    ax.set_xticks([-2, 0, 2])
    ax.set_xticklabels(['-2', '0', '2'])
    ax.tick_params(axis='x', direction='in', length=7, width=2, top=False, bottom=True,
                   labelbottom=(row == 8), labelsize=16, pad=8)
    if col == 0:
        ax.tick_params(axis='y', direction='in', length=7, width=2, left=True, right=False,
                       labelleft=True, labelsize=16, pad=6)
    else:
        ax.tick_params(axis='y', direction='in', length=7, width=2, left=False, right=True,
                       labelleft=False, labelright=False)
    ax.set_xlabel('')
    ax.set_ylabel('')
    xt = 0.94 if col == 0 else 0.95
    ax.text(xt, 0.79, label, transform=ax.transAxes, ha='right', va='center', fontsize=17.5)

# legend panel (top right)
lax = axes[0, 1]
lax.set_ylim(-0.74, 0.74)
lax.set_xticks([])
lax.set_yticks([])
h1 = [Line2D([], [], color=STYLE[k]['color'], ls=STYLE[k]['ls'], lw=STYLE[k]['lw']) for k in ['s', 'px', 'py', 'pz']]
h2 = [Line2D([], [], color=STYLE[k]['color'], ls=STYLE[k]['ls'], lw=STYLE[k]['lw']) for k in ['dz2', 'dxz', 'dx2']]
leg1 = lax.legend(h1, ['s', 'p$_\\mathregular{x}$', 'p$_\\mathregular{y}$', 'p$_\\mathregular{z}$'],
                  loc='center left', bbox_to_anchor=(0.06, 0.47), ncol=4, frameon=False,
                  handlelength=1.0, handletextpad=0.3, columnspacing=0.6, fontsize=15)
lax.add_artist(leg1)
lax.legend(h2, ['d$_\\mathregular{z^2}$', 'd$_\\mathregular{xz}$', 'd$_\\mathregular{x^2\\text{-}y^2}$'],
           loc='center left', bbox_to_anchor=(0.56, 0.47), ncol=3, frameon=False,
           handlelength=1.0, handletextpad=0.3, columnspacing=0.5, fontsize=15)

for col in range(2):
    axes[8, col].set_xlabel('E - E$_\\mathregular{F}$ (eV)', fontsize=16, fontweight='bold', labelpad=7)

fig.text(0.019, 0.5375, 'Orbital-projected electronic density of states (states/eV)',
         rotation=90, ha='center', va='center', fontsize=18, fontweight='bold')

plt.savefig('out.png', dpi=100)
